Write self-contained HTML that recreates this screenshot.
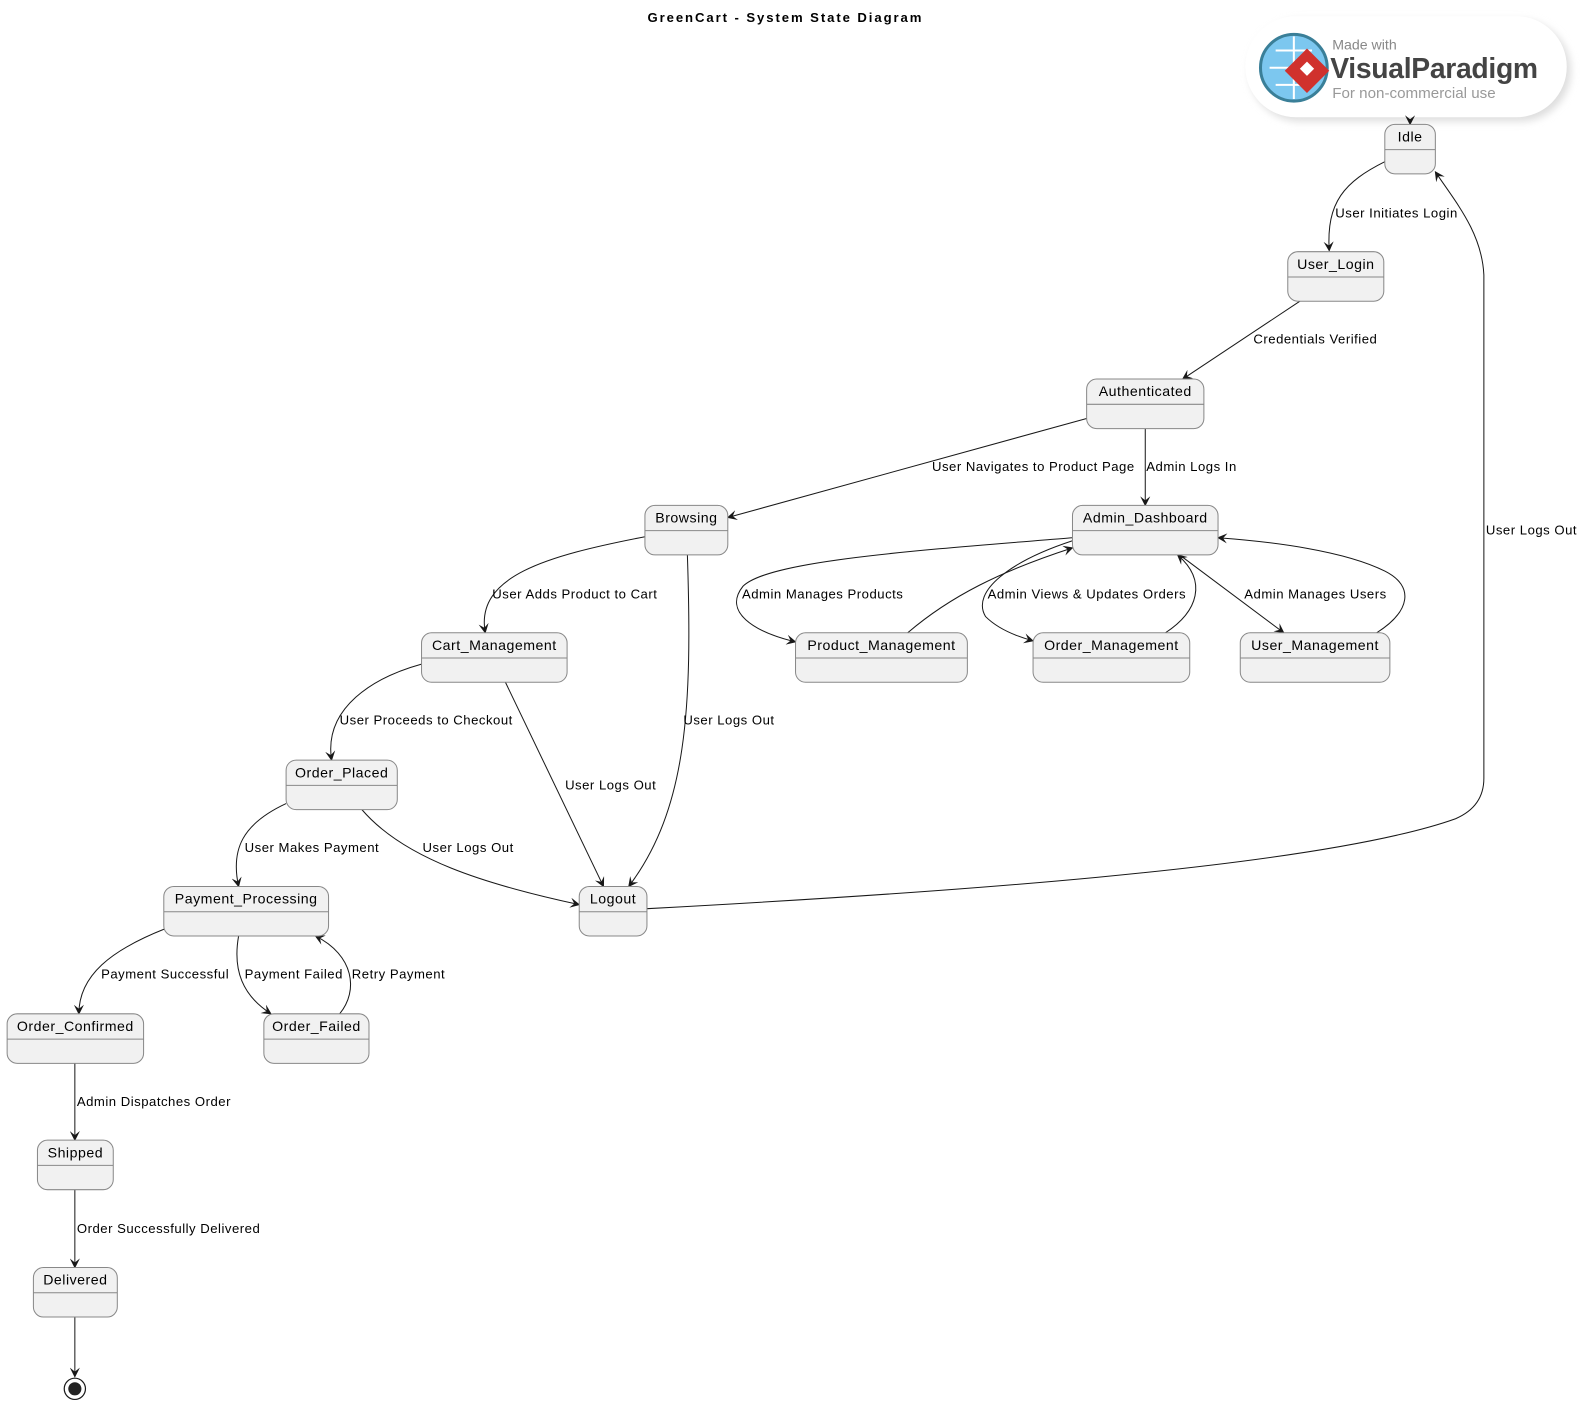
<!DOCTYPE html>
<html><head><meta charset="utf-8"><style>
html,body{margin:0;padding:0;background:#fff;}
svg{display:block;}
text{font-family:"Liberation Sans",sans-serif;fill:#000;}
.n{font-size:14px;text-anchor:middle;letter-spacing:0.5px;}
.l{font-size:13px;letter-spacing:0.5px;}
.e{fill:none;stroke:#181818;stroke-width:1;}
.b{fill:#f1f1f1;stroke:#888;stroke-width:1;}
</style></head><body>
<svg width="1585" height="1407" viewBox="0 0 1568 1392" xmlns="http://www.w3.org/2000/svg">
<defs>
<marker id="a" viewBox="0 0 10 10" refX="9" refY="5" markerWidth="10" markerHeight="10" markerUnits="userSpaceOnUse" orient="auto">
<path d="M0,0 L10,5 L0,10 L4,5 z" fill="#181818"/>
</marker>
<filter id="sh" x="-20%" y="-40%" width="140%" height="180%"><feGaussianBlur stdDeviation="4"/></filter>
</defs>
<text x="777" y="22" style="font-size:13px;font-weight:bold;letter-spacing:1.9px" text-anchor="middle">GreenCart - System State Diagram</text>

<!-- VP badge -->
<rect x="1236" y="20" width="318" height="100" rx="50" fill="#ddd" filter="url(#sh)"/>
<rect x="1232" y="16" width="318" height="100" rx="50" fill="#fff"/>
<circle cx="1280" cy="67" r="33" fill="#7cc7ef" stroke="#3a7f98" stroke-width="3"/>
<path d="M1256,67 H1304 M1280,36 V98 M1262,50 H1298 M1262,84 H1298" stroke="#fff" stroke-width="2"/>
<path d="M1293,48 L1315,70 L1293,92 L1271,70 z" fill="#d0312d"/>
<rect x="1288" y="63" width="10" height="10" fill="#fff" transform="rotate(45 1293 68)"/>
<text x="1318" y="49" style="font-size:14px;fill:#888">Made with</text>
<text x="1316" y="77" style="font-size:28px;font-weight:bold;fill:#444;letter-spacing:-0.3px">VisualParadigm</text>
<text x="1318" y="97" style="font-size:15px;fill:#999">For non-commercial use</text>

<!-- edges -->
<path class="e" d="M1395,118 V123" marker-end="url(#a)"/>
<path class="e" d="M1370,160 C1330,180 1312,200 1315,248" marker-end="url(#a)"/>
<path class="e" d="M1286,298 L1170,375" marker-end="url(#a)"/>
<path class="e" d="M1133,424 V500" marker-end="url(#a)"/>
<path class="e" d="M1075,414 L720,512" marker-end="url(#a)"/>
<path class="e" d="M638,531 C540,550 470,570 480,626" marker-end="url(#a)"/>
<path class="e" d="M680,549 C685,700 680,800 622,877" marker-end="url(#a)"/>
<path class="e" d="M417,657 C370,670 320,700 328,752" marker-end="url(#a)"/>
<path class="e" d="M500,675 L597,877" marker-end="url(#a)"/>
<path class="e" d="M283,795 C240,815 228,840 236,877" marker-end="url(#a)"/>
<path class="e" d="M358,801 C400,850 480,875 573,895" marker-end="url(#a)"/>
<path class="e" d="M640,899 C900,885 1300,860 1440,810 Q1468,798 1468,770 V272 C1466,230 1440,200 1420,170" marker-end="url(#a)"/>
<path class="e" d="M163,919 C110,940 78,965 78,1003" marker-end="url(#a)"/>
<path class="e" d="M236,926 C230,960 240,985 268,1003" marker-end="url(#a)"/>
<path class="e" d="M336,1003 C355,980 350,945 312,926" marker-end="url(#a)"/>
<path class="e" d="M74,1052 V1128" marker-end="url(#a)"/>
<path class="e" d="M74,1177 V1254" marker-end="url(#a)"/>
<path class="e" d="M74,1303 V1362" marker-end="url(#a)"/>
<path class="e" d="M1061,532 C900,545 760,555 735,580 C715,605 745,625 787,635" marker-end="url(#a)"/>
<path class="e" d="M898,626 C940,590 990,565 1061,542" marker-end="url(#a)"/>
<path class="e" d="M1061,535 C1000,555 960,585 975,610 C985,620 1000,628 1022,634" marker-end="url(#a)"/>
<path class="e" d="M1153,626 C1185,605 1195,575 1165,549" marker-end="url(#a)"/>
<path class="e" d="M1167,549 L1270,626" marker-end="url(#a)"/>
<path class="e" d="M1362,626 C1395,605 1400,580 1370,565 C1330,545 1260,536 1205,532" marker-end="url(#a)"/>

<!-- end -->
<circle cx="74" cy="1374" r="10.5" fill="#fff" stroke="#181818" stroke-width="1.2"/>
<circle cx="74" cy="1374" r="6.5" fill="#222"/>

<!-- labels -->
<g class="l">
<text x="1321" y="215">User Initiates Login</text>
<text x="1240" y="340">Credentials Verified</text>
<text x="922" y="466">User Navigates to Product Page</text>
<text x="1134" y="466">Admin Logs In</text>
<text x="1470" y="529">User Logs Out</text>
<text x="487" y="592">User Adds Product to Cart</text>
<text x="734" y="592">Admin Manages Products</text>
<text x="977" y="592">Admin Views &amp; Updates Orders</text>
<text x="1231" y="592">Admin Manages Users</text>
<text x="336" y="717">User Proceeds to Checkout</text>
<text x="676" y="717">User Logs Out</text>
<text x="559" y="781">User Logs Out</text>
<text x="242" y="843">User Makes Payment</text>
<text x="418" y="843">User Logs Out</text>
<text x="100" y="968">Payment Successful</text>
<text x="242" y="968">Payment Failed</text>
<text x="348" y="968">Retry Payment</text>
<text x="76" y="1094">Admin Dispatches Order</text>
<text x="76" y="1220">Order Successfully Delivered</text>
</g>

<!-- nodes -->
<g>
<rect class="b" x="1370" y="123" width="50" height="49" rx="10"/><line x1="1370" y1="148" x2="1420" y2="148" stroke="#888"/><text class="n" x="1395" y="140">Idle</text>
<rect class="b" x="1274" y="249" width="95" height="49" rx="10"/><line x1="1274" y1="274" x2="1369" y2="274" stroke="#888"/><text class="n" x="1321.5" y="266">User_Login</text>
<rect class="b" x="1075" y="375" width="116" height="49" rx="10"/><line x1="1075" y1="400" x2="1191" y2="400" stroke="#888"/><text class="n" x="1133" y="392">Authenticated</text>
<rect class="b" x="638" y="500" width="82" height="49" rx="10"/><line x1="638" y1="525" x2="720" y2="525" stroke="#888"/><text class="n" x="679" y="517">Browsing</text>
<rect class="b" x="1061" y="500" width="144" height="49" rx="10"/><line x1="1061" y1="525" x2="1205" y2="525" stroke="#888"/><text class="n" x="1133" y="517">Admin_Dashboard</text>
<rect class="b" x="417" y="626" width="144" height="49" rx="10"/><line x1="417" y1="651" x2="561" y2="651" stroke="#888"/><text class="n" x="489" y="643">Cart_Management</text>
<rect class="b" x="787" y="626" width="170" height="49" rx="10"/><line x1="787" y1="651" x2="957" y2="651" stroke="#888"/><text class="n" x="872" y="643">Product_Management</text>
<rect class="b" x="1022" y="626" width="155" height="49" rx="10"/><line x1="1022" y1="651" x2="1177" y2="651" stroke="#888"/><text class="n" x="1099.5" y="643">Order_Management</text>
<rect class="b" x="1227" y="626" width="148" height="49" rx="10"/><line x1="1227" y1="651" x2="1375" y2="651" stroke="#888"/><text class="n" x="1301" y="643">User_Management</text>
<rect class="b" x="283" y="752" width="110" height="49" rx="10"/><line x1="283" y1="777" x2="393" y2="777" stroke="#888"/><text class="n" x="338" y="769">Order_Placed</text>
<rect class="b" x="573" y="877" width="67" height="49" rx="10"/><line x1="573" y1="902" x2="640" y2="902" stroke="#888"/><text class="n" x="606.5" y="894">Logout</text>
<rect class="b" x="162" y="877" width="163" height="49" rx="10"/><line x1="162" y1="902" x2="325" y2="902" stroke="#888"/><text class="n" x="243.5" y="894">Payment_Processing</text>
<rect class="b" x="7" y="1003" width="135" height="49" rx="10"/><line x1="7" y1="1028" x2="142" y2="1028" stroke="#888"/><text class="n" x="74.5" y="1020">Order_Confirmed</text>
<rect class="b" x="261" y="1003" width="104" height="49" rx="10"/><line x1="261" y1="1028" x2="365" y2="1028" stroke="#888"/><text class="n" x="313" y="1020">Order_Failed</text>
<rect class="b" x="37" y="1128" width="75" height="49" rx="10"/><line x1="37" y1="1153" x2="112" y2="1153" stroke="#888"/><text class="n" x="74.5" y="1145">Shipped</text>
<rect class="b" x="33" y="1254" width="83" height="49" rx="10"/><line x1="33" y1="1279" x2="116" y2="1279" stroke="#888"/><text class="n" x="74.5" y="1271">Delivered</text>
</g>
</svg>
</body></html>
